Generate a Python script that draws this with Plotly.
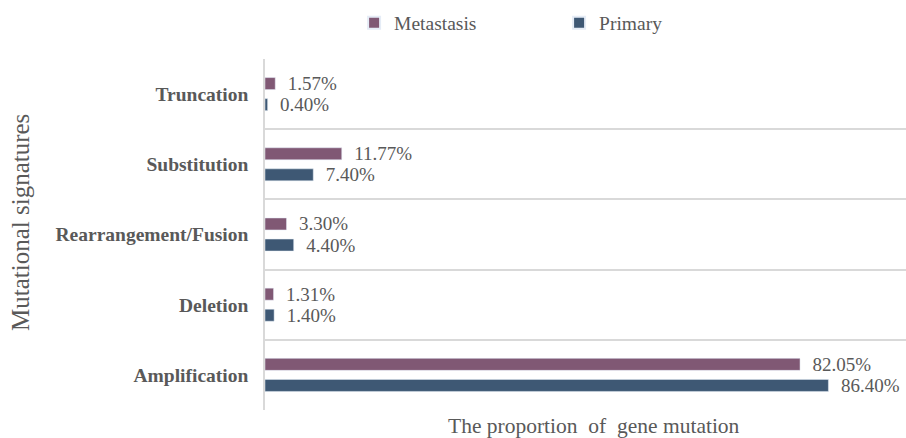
import plotly.graph_objects as go

# Mutation categories, bottom to top on the y axis
categories = ["Amplification", "Deletion", "Rearrangement/Fusion", "Substitution", "Truncation"]
primary = [86.40, 1.40, 4.40, 7.40, 0.40]
metastasis = [82.05, 1.31, 3.30, 11.77, 1.57]

GRAY = "#595959"
FONT = "Liberation Serif"
NB = "\u00a0"

fig = go.Figure()
fig.add_trace(go.Bar(
    y=categories, x=primary, name="Primary", orientation="h",
    marker=dict(color="#3E5874"), legendrank=2,
    texttemplate=NB * 2 + "%{x:.2f}%", textposition="outside",
    constraintext="none",
    textfont=dict(family=FONT, size=19, color=GRAY), cliponaxis=False,
))
fig.add_trace(go.Bar(
    y=categories, x=metastasis, name="Metastasis", orientation="h",
    marker=dict(color="#805874"), legendrank=1,
    texttemplate=NB * 2 + "%{x:.2f}%", textposition="outside",
    constraintext="none",
    textfont=dict(family=FONT, size=19, color=GRAY), cliponaxis=False,
))

fig.update_layout(
    width=906, height=438,
    margin=dict(l=265, r=0, t=59, b=28),
    paper_bgcolor="white", plot_bgcolor="white",
    barmode="group", bargap=0.4, bargroupgap=0.43,
    font=dict(family=FONT, color=GRAY, size=19),
    legend=dict(
        orientation="h", x=0.139, y=(410 - 23) / 351, xanchor="left", yanchor="middle",
        font=dict(family=FONT, size=19.5, color=GRAY),
        itemwidth=30, entrywidth=160, itemsizing="constant",
        bgcolor="rgba(0,0,0,0)",
    ),
    showlegend=True,
    xaxis=dict(
        range=[0, 98.3], showticklabels=False, showgrid=False, zeroline=False,
        showline=False, ticks="",
    ),
    yaxis=dict(
        type="category", tickson="boundaries", showgrid=True,
        gridcolor="#D9D9D9", gridwidth=1.5, ticks="", ticklabelstandoff=11,
        showline=True, linecolor="#D9D9D9", linewidth=1.5,
        tickfont=dict(family=FONT, size=19.5, color=GRAY, weight="bold"),
        range=[-0.5, 4.5],
    ),
    annotations=[
        dict(text="The proportion" + NB * 2 + "of" + NB * 2 + "gene mutation",
             xref="paper", yref="paper", x=(594 - 265) / 641, y=-0.045,
             xanchor="center", yanchor="middle", showarrow=False,
             font=dict(family=FONT, size=21.5, color=GRAY)),
        dict(text="Mutational signatures", textangle=-90,
             xref="paper", yref="paper", x=(20 - 265) / 641, y=(410 - 223) / 351,
             xanchor="center", yanchor="middle", showarrow=False,
             font=dict(family=FONT, size=25, color=GRAY)),
    ],
)

fig.write_html("out.html")
